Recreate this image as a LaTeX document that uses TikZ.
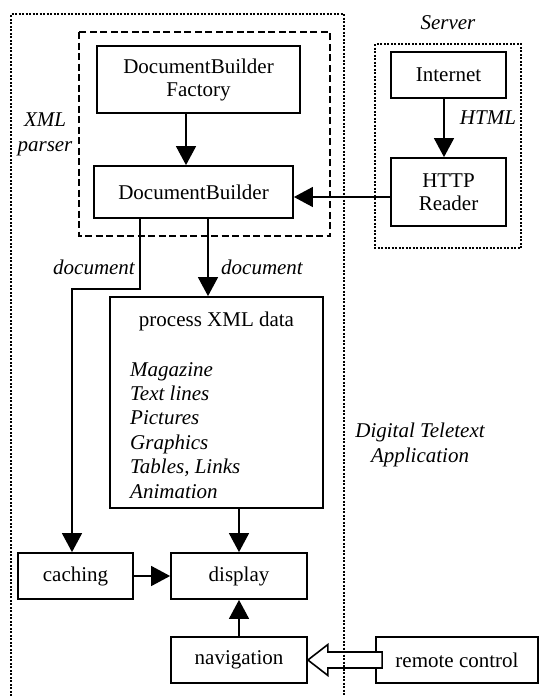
\documentclass[tikz,border=0pt]{standalone}
\usepackage{fontspec}
\setmainfont{Liberation Serif}
\usetikzlibrary{arrows.meta, calc}

\begin{document}
\fontsize{21pt}{25pt}\selectfont
\begin{tikzpicture}[x=1pt, y=-1pt,
    box/.style={draw, line width=1.8pt, inner sep=0pt, align=center, font=\fontsize{21pt}{23pt}\selectfont},
    arr/.style={line width=1.5pt, -{Triangle[length=19pt, width=20pt]}},
    lab/.style={font=\itshape, inner sep=0pt},
    fatarrow/.style={draw, fill=white, line width=1.6pt, line join=miter},
    dotframe/.style={line width=2pt, dash pattern=on 2pt off 1.5pt},
    dashframe/.style={line width=1.8pt, dash pattern=on 7pt off 3.5pt}]
    \useasboundingbox (0,0) rectangle (540,696);

    \draw[dashframe] (79,32) rectangle (330,236);
    \draw[dotframe] (375,44) rectangle (521,248);

    \node[box, minimum width=203pt, minimum height=67pt] (factory) at (198.5,79.5) {DocumentBuilder\\Factory};
    \node[box, minimum width=199pt, minimum height=52pt] (builder) at (193.5,192) {DocumentBuilder};
    \node[box, minimum width=115pt, minimum height=46pt] (internet) at (448.5,75) {Internet};
    \node[box, minimum width=115pt, minimum height=68pt] (http) at (448.5,192) {HTTP\\Reader};
    \node[box, minimum width=213pt, minimum height=211pt] (process) at (216.5,402.5) {};
    \node[box, minimum width=115pt, minimum height=46pt] (caching) at (75.5,576) {caching};
    \node[box, minimum width=136pt, minimum height=46pt] (display) at (239,576) {display};
    \node[box, minimum width=136pt, minimum height=46pt] (nav) at (239,660) {navigation};
    \node[box, minimum width=162pt, minimum height=46pt] (remote) at (457,660) {remote control};

    \node (title) at ([yshift=-25pt]process.north) {process XML data};
    \foreach \t [count=\i] in {Magazine, Text lines, Pictures, Graphics, {Tables, Links}, Animation}
        \node[lab, anchor=base west] (item\i) at (130, {351.6+24.4*\i}) {\t};

    \node[lab] (server) at (448,23) {Server};
    \node[lab] (html) at (488,118) {HTML};
    \node[lab, align=center] (parser) at (45,134) {XML\\parser};
    \node[lab, align=center] (app) at (420,444.5) {Digital Teletext\\Application};
    \node[lab] (doc1) at (94,267) {document};
    \node[lab] (doc2) at (262,267) {document};

    \draw[arr] ([xshift=-12.5pt]factory.south) -- ([xshift=-7.5pt]builder.north);
    \draw[arr] ([xshift=-4.5pt]internet.south) -- ([xshift=-4.5pt]http.north);
    \draw[arr] ([yshift=-5pt]http.west) -- ([yshift=-5pt]builder.east);
    \draw[arr] ([xshift=14.5pt]builder.south) -- ([xshift=-8.5pt]process.north);
    \draw[arr] ([xshift=-53.5pt]builder.south) -- ++(0,70) -| ([xshift=-3.5pt]caching.north);
    \draw[arr] ([xshift=22.5pt]process.south) -- (display.north);
    \draw[arr] (caching.east) -- (display.west);
    \draw[arr] (nav.north) -- (display.south);

    \draw[fatarrow] (nav.east) -- ++(20,-15.5) -- ++(0,7.5) -- ($(remote.west)+(7,-8)$)
        -- ++(0,16) -- ($(nav.east)+(20,8)$) -- ++(0,7.5) -- cycle;

    \draw[dotframe] (11,696) -- (11,14) -- (344,14) -- (344,696);
\end{tikzpicture}
\end{document}
